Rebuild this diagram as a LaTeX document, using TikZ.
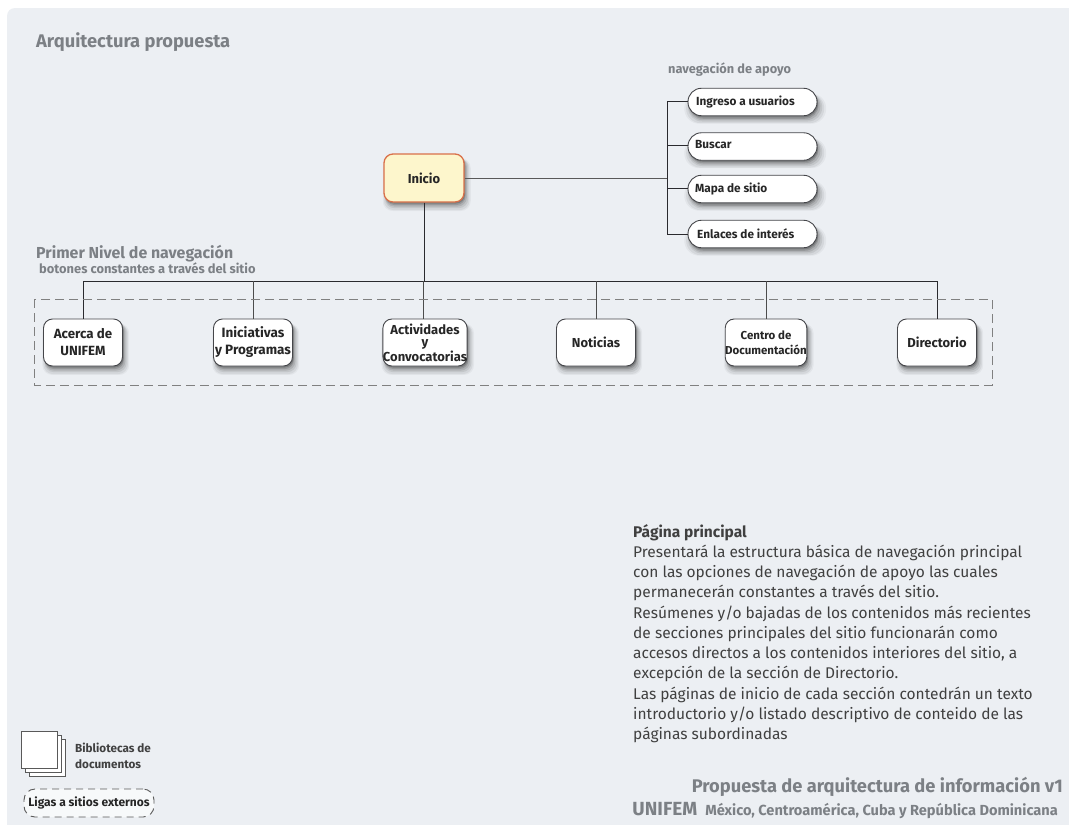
\documentclass[tikz,border=0pt]{standalone}
\usepackage{fontspec}
\setmainfont{Fira Sans}
\usetikzlibrary{shadows}
\definecolor{panelc}{HTML}{ECEFF3}
\definecolor{greyt}{HTML}{7C8085}
\definecolor{linec}{HTML}{2A2A2E}
\definecolor{boxl}{HTML}{45464A}
\definecolor{inicioc}{HTML}{FDF6CC}
\definecolor{inicioe}{HTML}{D9704A}
\tikzset{
 softshadow/.style={
  general shadow={shadow xshift=2.5pt,shadow yshift=-6pt,shadow scale=1.10,fill=black,opacity=.04},
  general shadow={shadow xshift=2.5pt,shadow yshift=-6pt,shadow scale=1.07,fill=black,opacity=.06},
  general shadow={shadow xshift=2.5pt,shadow yshift=-5pt,shadow scale=1.04,fill=black,opacity=.08},
  general shadow={shadow xshift=2pt,shadow yshift=-4pt,shadow scale=1.02,fill=black,opacity=.10},
  general shadow={shadow xshift=1.5pt,shadow yshift=-3pt,fill=black,opacity=.14},
  general shadow={shadow xshift=1pt,shadow yshift=-1.5pt,fill=black,opacity=.18}},
 mainbox/.style={softshadow,draw=boxl,line width=.9pt,fill=white,rounded corners=9pt,minimum width=79pt,minimum height=47pt,inner sep=0pt,align=center,font=\fontsize{13}{17}\selectfont\bfseries,text=black!85},
 pillbox/.style={softshadow,draw=boxl,line width=.9pt,fill=white,rounded corners=13.5pt,minimum width=129pt,minimum height=27.5pt,inner sep=0pt},
 pilltext/.style={font=\fontsize{11.8}{14}\selectfont\bfseries,text=black!85,anchor=west,inner sep=0pt},
 conn/.style={draw=linec,line width=.9pt},
 greylab/.style={text=greyt,anchor=west,inner sep=0pt},
 bodytext/.style={anchor=north west,inner sep=0pt,align=left,text=black!75,font=\fontsize{15.5}{20.25}\selectfont},
}
\begin{document}
\begin{tikzpicture}[x=1pt,y=-1pt]
\useasboundingbox (0,0) rectangle (1069,825);
\fill[white] (0,0) rectangle (1069,825);
\fill[panelc] (7,16) arc[start angle=180,end angle=90,radius=8pt] -- (1069,8) -- (1069,825) -- (7,825) -- cycle;
\node[greylab,font=\fontsize{18.3}{20}\selectfont\bfseries] (title) at (36,42) {Arquitectura propuesta};
\node[greylab,font=\fontsize{12.8}{14}\selectfont\bfseries] (apoyo) at (668,70) {navegación de apoyo};
\node[mainbox,draw=inicioe,fill=inicioc,line width=1.3pt,minimum width=80pt,minimum height=48pt] (inicio) at (424,178) {Inicio};
\node[pillbox] (p1) at (752.5,102) {};
\node[pillbox] (p2) at (752.5,146.5) {};
\node[pillbox] (p3) at (752.5,189) {};
\node[pillbox] (p4) at (752.5,234) {};
\node[pilltext] (l1) at (696,102) {Ingreso a usuarios};
\node[pilltext] (l2) at (695,145) {Buscar};
\node[pilltext] (l3) at (695,189) {Mapa de sitio};
\node[pilltext] (l4) at (697,234) {Enlaces de interés};
\coordinate (trunk) at (667,178);
\coordinate (t1) at (667,101);
\coordinate (t2) at (667,145);
\coordinate (t3) at (667,188);
\coordinate (t4) at (667,234);
\draw[conn,draw=black!65] (inicio.east) -- (trunk);
\draw[conn] (t1) -- (t4);
\draw[conn] (t1) -- (p1.west |- t1);
\draw[conn] (t2) -- (p2.west |- t2);
\draw[conn] (t3) -- (p3.west |- t3);
\draw[conn] (t4) -- (p4.west |- t4);
\node[greylab,font=\fontsize{15.9}{18}\selectfont\bfseries] (nivel) at (36,254) {Primer Nivel de navegación};
\node[greylab,font=\fontsize{12.9}{15}\selectfont\bfseries] (botones) at (39,268) {botones constantes a través del sitio};
\node[mainbox,font=\fontsize{13.3}{17}\selectfont\bfseries] (a) at (83,342.5) {Acerca de\\UNIFEM};
\node[mainbox,font=\fontsize{13.5}{17}\selectfont\bfseries] (b) at (253,342.5) {Iniciativas\\y Programas};
\node[mainbox,font=\fontsize{13}{12.7}\selectfont\bfseries] (c) at (425,342.5) {Actividades\\y\\Convocatorias};
\node[mainbox] (d) at (596,342.5) {Noticias};
\node[mainbox,font=\fontsize{11.5}{15}\selectfont\bfseries] (e) at (766,342.5) {Centro de\\Documentación};
\node[mainbox] (f) at (937,342.5) {Directorio};
\coordinate (bus) at (424,281);
\draw[conn] (inicio.south) -- (bus);
\draw[conn] (a.north) |- (bus);
\draw[conn] (f.north) |- (bus);
\draw[conn,draw=black!70] (b.north) -- (b.north |- bus);
\draw[conn,draw=black!70] ([xshift=-2pt]c.north) -- ([xshift=-2pt]c.north |- bus);
\draw[conn,draw=black!70] (d.north) -- (d.north |- bus);
\draw[conn,draw=black!70] (e.north) -- (e.north |- bus);
\draw[draw=black!50,line width=.7pt,dash pattern=on 9pt off 5pt] (34,299) rectangle (992,385);
\node[bodytext] (body) at (633,524) {\textbf{Página principal}\\Presentará la estructura básica de navegación principal\\con las opciones de navegación de apoyo las cuales\\permanecerán constantes a través del sitio.\\Resúmenes y/o bajadas de los contenidos más recientes\\de secciones principales del sitio funcionarán como\\accesos directos a los contenidos interiores del sitio, a\\excepción de la sección de Directorio.\\Las páginas de inicio de cada sección contedrán un texto\\introductorio y/o listado descriptivo de conteido de las\\páginas subordinadas};
\node[text=greyt,anchor=east,inner sep=0pt,font=\fontsize{18.3}{20}\selectfont\bfseries] (prop) at (1063,787) {Propuesta de arquitectura de información v1};
\node[text=greyt,anchor=east,inner sep=0pt] (unifem) at (1058,811) {{\fontsize{19}{20}\selectfont\bfseries UNIFEM}\hspace{5.5pt} {\fontsize{14.6}{20}\selectfont\bfseries México, Centroamérica, Cuba y República Dominicana}};
\foreach \o in {8,4,0}
  \draw[fill=white,draw=black!65,line width=.9pt] (21+\o,731+\o) rectangle +(36,37);
\node[anchor=west,inner sep=0pt,align=left,text=black!75,font=\fontsize{11.7}{16.5}\selectfont\bfseries] (bib) at (75,756) {Bibliotecas de\\documentos};
\node[draw=black!65,dash pattern=on 7pt off 5pt,line width=.9pt,fill=white!60!panelc,rounded corners=11pt,minimum width=130pt,minimum height=28pt,inner sep=0pt,text=black!85,font=\fontsize{12}{14}\selectfont\bfseries] (ligas) at (89,803) {Ligas a sitios externos};
\end{tikzpicture}
\end{document}
